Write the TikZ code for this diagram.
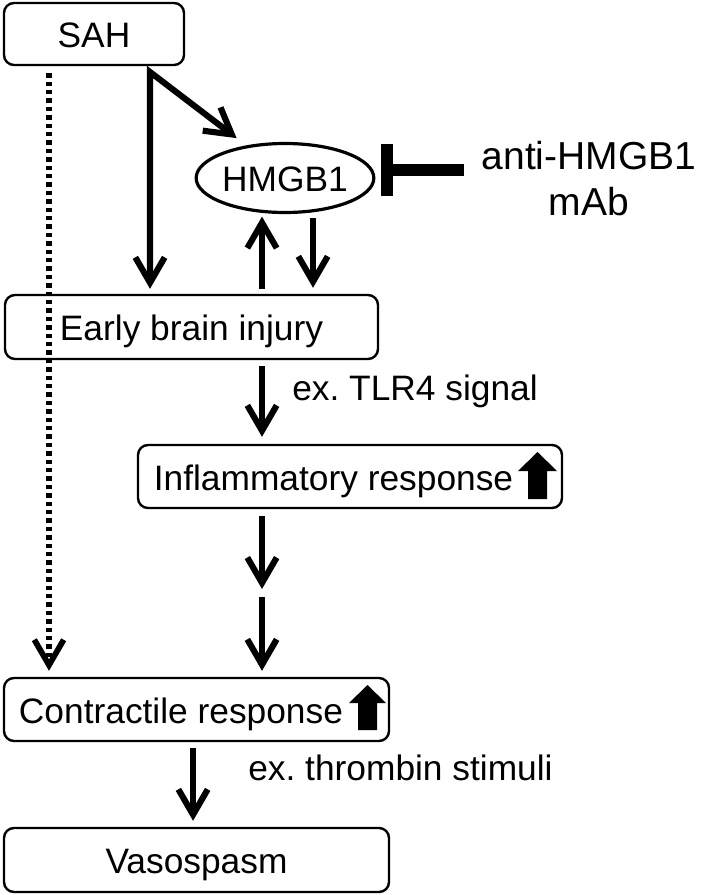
\documentclass[tikz,border=0pt]{standalone}
\usepackage{fontspec}
\setmainfont{Liberation Sans}
\usetikzlibrary{arrows.meta,shapes.geometric}
\frenchspacing

\tikzset{
  box/.style={draw, line width=1.8pt, rounded corners=7.5pt, inner sep=0pt,
    text height=20.3pt, text depth=0pt, font=\fontsize{26.5}{30}\selectfont},
  hmgbnode/.style={draw, ellipse, line width=2.4pt, inner sep=0pt,
    minimum width=123pt, minimum height=51.75pt,
    text height=20.3pt, text depth=0pt, font=\fontsize{26.5}{30}\selectfont},
  lbl/.style={anchor=west, inner sep=0pt, text height=20.3pt, text depth=0pt,
    font=\fontsize{26.5}{30}\selectfont},
  arr/.style={line width=4.6pt, -{Straight Barb[length=19pt,width=22pt]}},
  arrboth/.style={line width=4.6pt,
    {Straight Barb[length=19pt,width=22pt]}-{Straight Barb[length=19pt,width=22pt]}},
  dotarr/.style={arr, line width=4.3pt, dash pattern=on 3.3pt off 3pt},
  inhib/.style={line width=9pt, -{Bar[width=39pt]}},
}

\begin{document}
\begin{tikzpicture}[x=0.75pt,y=0.75pt,yscale=-1]
\useasboundingbox (0,0) rectangle (700,895);

% Boxes
\node[box, minimum width=135pt, minimum height=46.5pt] (sah) at (94,34) {SAH};
\node[hmgbnode] (hmgb) at (285,178) {HMGB1};
\node[box, minimum width=279.75pt, minimum height=48pt] (ebi) at (191.5,327) {Early brain injury};
\node[box, minimum width=318pt, minimum height=47.25pt] (infl) at (350,476.5) {Inflammatory response\kern24.75pt};
\node[box, minimum width=288.75pt, minimum height=47.25pt] (con) at (196.5,709.5) {Contractile response\kern23.25pt};
\node[box, minimum width=288.75pt, minimum height=48pt] (vas) at (196.5,860) {Vasospasm};

% Up marks
\fill (528,499) -- (528,471) -- (518,471) -- (537.5,452) -- (557,471) -- (547,471) -- (547,499) -- cycle;
\fill (358,730) -- (358,703) -- (349,703) -- (367.5,685) -- (386,703) -- (377,703) -- (377,730) -- cycle;

% Labels
\node[lbl] (tlr) at (292,387) {ex. TLR4 signal};
\node[lbl] (thr) at (248,767) {ex. thrombin stimuli};
\node[align=center, inner sep=0pt, font=\fontsize{29.25}{34.5}\selectfont] (anti) at (589,179) {anti-HMGB1\\mAb};

% Connectors
\coordinate (dot) at (49,0);
\coordinate (sahout) at (150,72);
\coordinate (col) at (262,0);
\coordinate (col2) at (313,0);
\coordinate (mid) at (262,593);

\draw[dotarr, shorten <=5.25pt, shorten >=4.5pt] (sah.south -| dot) -- (con.north -| dot);
\draw[arrboth, shorten <=3.75pt, shorten >=9pt] (sahout |- ebi.north) -- (sahout) -- (hmgb.140);

\draw[arr, shorten <=3.75pt, shorten >=1.9pt] (col |- ebi.north) -- (col |- hmgb.south);
\draw[arr, shorten <=2.6pt, shorten >=4.5pt] (col2 |- hmgb.south) -- (col2 |- ebi.north);
\draw[inhib, shorten <=12.75pt, shorten >=6pt] (anti.west |- hmgb.5) -- (hmgb.5);

\draw[arr, shorten <=4.5pt, shorten >=5.25pt] (col |- ebi.south) -- (col |- infl.north);
\draw[arr, shorten <=5.25pt, shorten >=3pt] (col |- infl.south) -- (mid);
\draw[arr, shorten <=3pt, shorten >=4.5pt] (mid) -- (col |- con.north);
\draw[arr, shorten <=4.5pt, shorten >=4.5pt] ([xshift=-2.6pt]con.south) -- ([xshift=-2.6pt]vas.north);

\end{tikzpicture}
\end{document}
